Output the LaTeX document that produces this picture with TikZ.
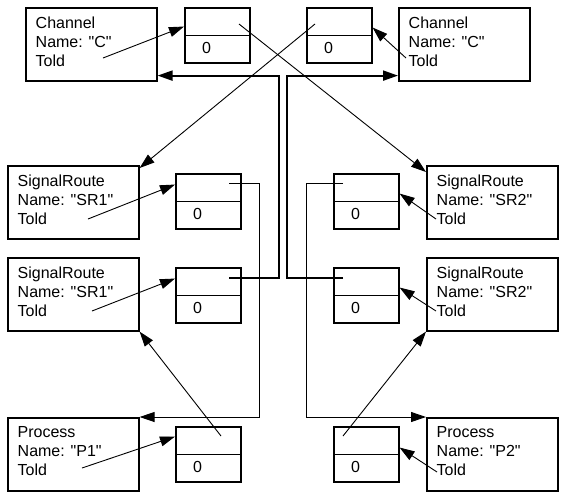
\documentclass[tikz,border=0pt]{standalone}
\usepackage{fontspec}
\setmainfont{Liberation Sans}[Ligatures=TeXOff]
\usetikzlibrary{arrows.meta}
\newcommand\mkrec[4]{%
  \node[rec] (#1) at (#2,#3) {};
  \node[lbl] (#1t) at (#2+10.5,#3+9.3) {#4};
}
\newcommand\mkcell[3]{%
  \node[cell] (#1u) at (#2,#3) {};
  \node[cell] (#1d) at (#2,#3+27.5) {};
  \node[inner sep=0,font=\fontsize{16}{19}\selectfont] (#1z) at (#2+22.5,#3+41) {0};
}
\begin{document}
\begin{tikzpicture}[x=1pt,y=-1pt,
  rec/.style={draw, line width=1.6pt, minimum width=131pt, minimum height=73pt, anchor=north west, inner sep=0},
  cell/.style={draw, line width=1.6pt, minimum width=65pt, minimum height=27.5pt, anchor=north west, inner sep=0},
  lbl/.style={anchor=north west, align=left, inner sep=0, font=\fontsize{16}{19}\selectfont},
  thinl/.style={line width=0.9pt},
  thickl/.style={line width=2pt},
  tip/.style={-{Triangle[length=15pt,width=10pt]}}
]
\useasboundingbox (0,0) rectangle (565,499);
% records
\mkrec{ch1}{25}{7}{Channel\\Name: "C"\\Told}
\mkrec{ch2}{398}{7}{Channel\\Name: "C"\\Told}
\mkrec{sr1}{7}{165}{SignalRoute\\Name: "SR1"\\Told}
\mkrec{sr1b}{7}{257}{SignalRoute\\Name: "SR1"\\Told}
\mkrec{p1}{7}{417}{Process\\Name: "P1"\\Told}
\mkrec{sr2}{426}{165}{SignalRoute\\Name: "SR2"\\Told}
\mkrec{sr2b}{426}{257}{SignalRoute\\Name: "SR2"\\Told}
\mkrec{p2}{426}{417}{Process\\Name: "P2"\\Told}
% cells
\mkcell{c1}{184}{7}
\mkcell{c2}{306}{7}
\mkcell{s1}{175}{173}
\mkcell{s1b}{175}{267}
\mkcell{q1}{175}{426}
\mkcell{s2}{333}{173}
\mkcell{s2b}{333}{267}
\mkcell{q2}{333}{426}
% free ends
\coordinate (ch1told) at (103,58);
\coordinate (ch2told) at (406,58);
\coordinate (sr1told) at (88,219);
\coordinate (sr1btold) at (92,311);
\coordinate (p1told) at (82,468);
\coordinate (sr2told) at (436,219);
\coordinate (sr2btold) at (436,311);
\coordinate (p2told) at (437,472);
\coordinate (c1p) at (239,24);
\coordinate (c2p) at (315,24);
\coordinate (q1p) at (221,436);
\coordinate (q2p) at (343,436);
\coordinate (s1p) at (229,183);
\coordinate (s1bp) at (229,278);
\coordinate (s2p) at (343,183);
\coordinate (s2bp) at (343,278);
% Told arrows
\draw[thinl,tip] (ch1told) -- ([yshift=-5pt]c1u.west);
\draw[thinl,tip] (ch2told) -- ([yshift=-6pt]c2u.east);
\draw[thinl,tip] (sr1told) -- ([yshift=3pt]s1u.west);
\draw[thinl,tip] (sr1btold) -- ([yshift=3pt]s1bu.west);
\draw[thinl,tip] (p1told) -- ([yshift=4pt]q1u.west);
\draw[thinl,tip] (sr2told) -- ([yshift=-6pt]s2u.east);
\draw[thinl,tip] (sr2btold) -- ([yshift=-6pt]s2bu.east);
\draw[thinl,tip] (p2told) -- ([yshift=-7pt]q2u.east);
% pointers
\draw[thinl,tip] (c1p) -- ([yshift=-7pt]sr2.north west);
\draw[thinl,tip] (c2p) -- ([yshift=-3pt]sr1.north east);
\draw[thinl,tip] (q1p) -- (sr1b.south east);
\draw[thinl,tip] (q2p) -- (sr2b.south west);
\draw[thickl,tip] (s1bp) -- ++(50,0) |- ([yshift=6pt]ch1.south east);
\draw[thickl,tip] (s2bp) -- ++(-56,0) |- ([yshift=6pt]ch2.south west);
\draw[thinl,tip] (s1p) -- ++(30,0) |- (p1.north east);
\draw[thinl,tip] (s2p) -- ++(-37,0) |- (p2.north west);
\end{tikzpicture}
\end{document}
